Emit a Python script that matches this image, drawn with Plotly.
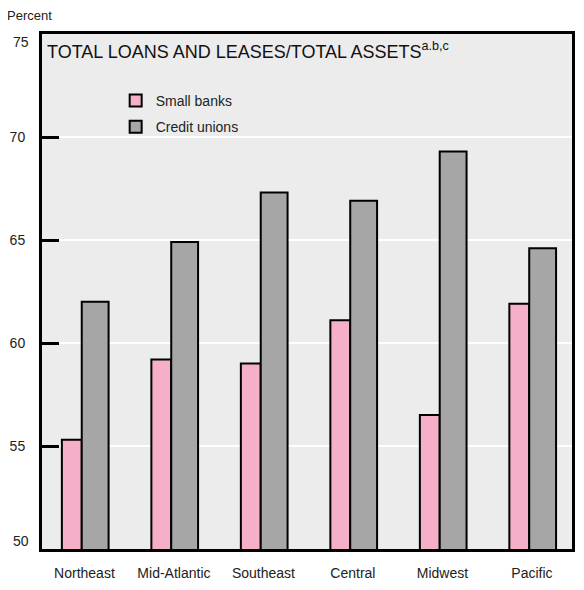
import plotly.graph_objects as go

regions = ["Northeast", "Mid-Atlantic", "Southeast", "Central", "Midwest", "Pacific"]
small_banks = [55.3, 59.2, 59.0, 61.1, 56.5, 61.9]
credit_unions = [62.0, 64.9, 67.3, 66.9, 69.3, 64.6]
y_ticks = [50, 55, 60, 65, 70, 75]

FONT = "Liberation Sans, Arial"
x = list(range(len(regions)))
y_lo, y_hi = y_ticks[0], y_ticks[-1]

fig = go.Figure()
fig.add_trace(go.Bar(
    x=x, y=small_banks, name="Small banks", legendgroup="a",
    marker=dict(color="#f6afc8", line=dict(color="black", width=2)),
    width=0.222, offset=-0.222,
))
fig.add_trace(go.Bar(
    x=x, y=credit_unions, name="Credit unions", legendgroup="b",
    marker=dict(color="#a6a6a6", line=dict(color="black", width=2)),
    width=0.30, offset=0.0,
))

# inner tick labels on the axis; the end labels are nudged inward like the original
tick_text = ["" if v in (y_lo, y_hi) else str(v) for v in y_ticks]
end_labels = [
    dict(text=str(y_lo), x=0, y=y_lo, xref="paper", yref="y", xshift=-11, yshift=8,
         xanchor="right", yanchor="middle", showarrow=False,
         font=dict(family=FONT, size=14, color="#222")),
    dict(text=str(y_hi), x=0, y=y_hi, xref="paper", yref="y", xshift=-11, yshift=-8,
         xanchor="right", yanchor="middle", showarrow=False,
         font=dict(family=FONT, size=14, color="#222")),
]

fig.update_layout(
    width=568, height=574,
    margin=dict(l=34, r=1, t=26, b=25),
    paper_bgcolor="white",
    plot_bgcolor="#ececec",
    barmode="overlay",
    showlegend=True,
    legend=dict(x=0.139, y=0.901, xanchor="left", yanchor="top",
                bgcolor="rgba(0,0,0,0)", font=dict(family=FONT, size=14, color="#222"),
                itemwidth=30, tracegroupgap=5, traceorder="grouped"),
    font=dict(family=FONT, size=14, color="#222"),
    xaxis=dict(range=[-0.444, 5.478], tickvals=[v + 0.03 for v in x], ticktext=regions,
               showgrid=False, zeroline=False, showline=True, linecolor="black", linewidth=3,
               mirror=True, ticks="", ticklabelstandoff=9,
               tickfont=dict(family=FONT, size=14, color="#222")),
    yaxis=dict(range=[y_lo, y_hi], tickvals=y_ticks, ticktext=tick_text,
               showgrid=True, gridcolor="white", gridwidth=2, zeroline=False,
               showline=True, linecolor="black", linewidth=3, mirror=True,
               ticks="inside", ticklen=17, tickwidth=3, tickcolor="black",
               tickfont=dict(family=FONT, size=14, color="#222"),
               ticklabelstandoff=11),
    annotations=[
        dict(text="Percent", x=0, y=1, xref="paper", yref="paper", xshift=-37, yshift=19,
             xanchor="left", yanchor="middle", showarrow=False,
             font=dict(family=FONT, size=13, color="#222")),
        dict(text="TOTAL LOANS AND LEASES/TOTAL ASSETS<sup>a.b,c</sup>", x=0, y=1,
             xref="paper", yref="paper", xshift=3, yshift=-3, xanchor="left", yanchor="top",
             showarrow=False, font=dict(family=FONT, size=18, color="#111")),
    ] + end_labels,
)

fig.write_html("out.html")
